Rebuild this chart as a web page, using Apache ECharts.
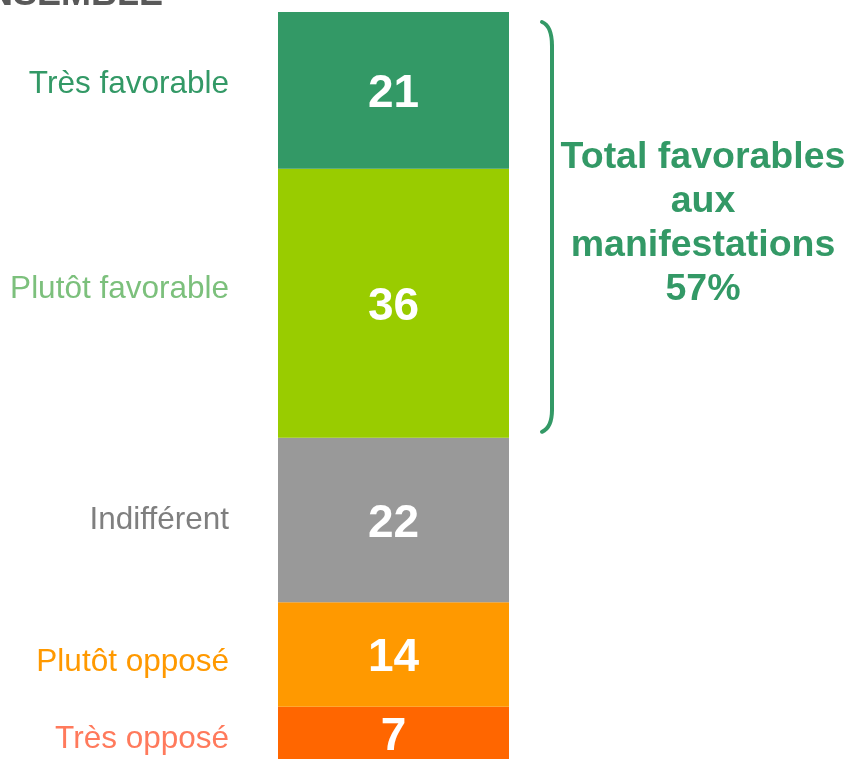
<!DOCTYPE html>
<html><head><meta charset="utf-8">
<script src="https://cdn.jsdelivr.net/npm/echarts@6/dist/echarts.min.js"></script>
<style>html,body{margin:0;padding:0;background:#fff}#c{width:851px;height:759px}</style>
</head><body><div id="c"></div>
<script>
// Data (bottom to top of the stacked bar)
const categories = ["Très opposé", "Plutôt opposé", "Indifférent", "Plutôt favorable", "Très favorable"];
const values = [7, 14, 22, 36, 21];
const barColors = ["#FF6600", "#FF9900", "#999999", "#99CC00", "#339966"];
const labelColors = ["#FF7A5C", "#FF9900", "#7F7F7F", "#7CC07C", "#339966"];
const labelOffsets = [6, 8, 0, -14, -6];
const titleText = "ENSEMBLE";
const favorableCats = ["Plutôt favorable", "Très favorable"];

const FONT = '"Liberation Sans", Arial, sans-serif';
const chart = echarts.init(document.getElementById('c'));

const series = categories.map((name, i) => ({
  name, type: 'bar', stack: 'total', barWidth: '100%',
  data: [values[i]],
  itemStyle: { color: barColors[i] },
  label: { show: true, position: 'inside', offset: [0, 4], color: '#fff', fontSize: 46, fontWeight: 'bold', fontFamily: FONT },
  silent: true
}));

chart.setOption({
  animation: false,
  grid: { left: 278, width: 231, top: 12, bottom: 0 },
  xAxis: { type: 'category', data: ['Ensemble'], show: false },
  yAxis: { type: 'value', min: 0, max: 100, show: false },
  series
});

// Overlay texts positioned through the chart's scale
const graphics = [];
let cum = 0;
categories.forEach((name, i) => {
  const mid = cum + values[i] / 2;
  cum += values[i];
  const py = chart.convertToPixel({ gridIndex: 0 }, [0, mid])[1];
  graphics.push({
    type: 'text', x: 229, y: py + labelOffsets[i],
    style: { text: name, fill: labelColors[i], font: '31.5px ' + FONT, textAlign: 'right', textVerticalAlign: 'middle' }
  });
});

// bracket around favorable segments
const favTotal = favorableCats.reduce((s, c) => s + values[categories.indexOf(c)], 0);
const startFav = values.slice(0, categories.indexOf(favorableCats[0])).reduce((a, b) => a + b, 0);
const yTop = chart.convertToPixel({ gridIndex: 0 }, [0, startFav + favTotal])[1] + 10;
const yBot = chart.convertToPixel({ gridIndex: 0 }, [0, startFav])[1] - 6;
const bx = 552, bx0 = 542;
const bStyle = { stroke: '#339966', lineWidth: 4, fill: null, lineCap: 'round' };
graphics.push({
  type: 'bezierCurve',
  shape: { x1: bx0, y1: yTop, cpx1: bx, cpy1: yTop + 4, x2: bx, y2: yTop + 24 },
  style: bStyle
});
graphics.push({
  type: 'line',
  shape: { x1: bx, y1: yTop + 24, x2: bx, y2: yBot - 22 },
  style: bStyle
});
graphics.push({
  type: 'bezierCurve',
  shape: { x1: bx, y1: yBot - 22, cpx1: bx, cpy1: yBot - 4, x2: bx0, y2: yBot },
  style: bStyle
});

graphics.push({
  type: 'text', x: 703, y: (yTop + yBot) / 2 - 3,
  style: {
    text: 'Total favorables\naux\nmanifestations\n' + favTotal + '%',
    fill: '#339966', font: 'bold 37.5px ' + FONT, lineHeight: 44,
    textAlign: 'center', textVerticalAlign: 'middle'
  }
});

graphics.push({
  type: 'text', x: 163, y: -5,
  style: { text: titleText, fill: '#595959', font: 'bold 36px ' + FONT, textAlign: 'right', textVerticalAlign: 'middle' }
});

chart.setOption({ graphic: graphics });
</script></body></html>
